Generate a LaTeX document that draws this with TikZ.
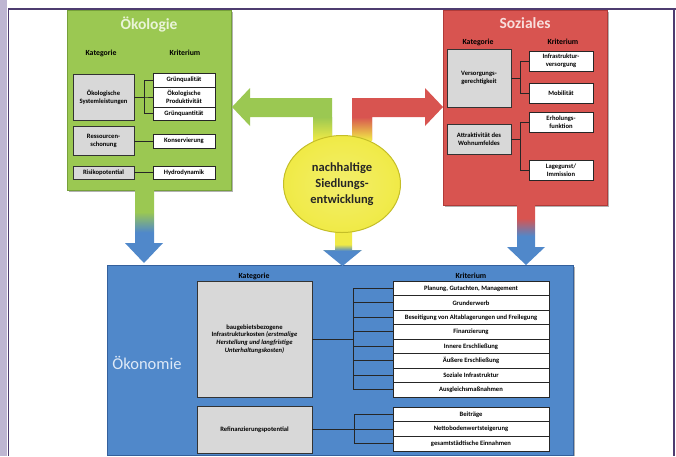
\documentclass[tikz,border=0pt]{standalone}
\usepackage{fontspec}
\setmainfont{Carlito}
\usetikzlibrary{shapes.geometric}

\definecolor{oekogreen}{RGB}{155,200,82}
\definecolor{oekogreenD}{RGB}{118,160,58}
\definecolor{oekogreenT}{RGB}{234,244,216}
\definecolor{sozred}{RGB}{216,84,80}
\definecolor{sozredD}{RGB}{176,58,56}
\definecolor{sozredT}{RGB}{248,222,220}
\definecolor{oekoblue}{RGB}{80,136,202}
\definecolor{oekoblueD}{RGB}{52,96,156}
\definecolor{oekoblueT}{RGB}{222,233,247}
\definecolor{katgray}{RGB}{216,216,216}
\definecolor{kreisgelb}{RGB}{240,234,70}
\definecolor{kreisgelbD}{RGB}{196,190,40}
\definecolor{rahmenlila}{RGB}{78,60,112}
\definecolor{streifen}{RGB}{190,182,210}

% vertical shadings for the block arrows (path spans 25bp..75bp)
\pgfdeclareverticalshading{gruenblau}{100bp}{color(0bp)=(oekoblue); color(46bp)=(oekoblue); color(60bp)=(oekogreen); color(100bp)=(oekogreen)}
\pgfdeclareverticalshading{rotblau}{100bp}{color(0bp)=(oekoblue); color(49bp)=(oekoblue); color(64bp)=(sozred); color(100bp)=(sozred)}
\pgfdeclareverticalshading{gelbblau}{100bp}{color(0bp)=(oekoblue); color(44bp)=(oekoblue); color(52bp)=(kreisgelb); color(100bp)=(kreisgelb)}

\tikzset{
  katbox/.style={draw=black!80, fill=katgray, line width=0.9pt, align=center, inner sep=1pt, font=\fontsize{6.6}{7.8}\selectfont\bfseries},
  kritbox/.style={draw=black!85, fill=white, line width=0.9pt, align=center, inner sep=1pt, font=\fontsize{6.6}{7.8}\selectfont\bfseries},
  spalte/.style={font=\fontsize{7.8}{9}\selectfont\bfseries},
  klammer/.style={draw=black!85, line width=0.9pt},
  titel/.style={font=\fontsize{15.5}{18}\selectfont\bfseries},
}

\begin{document}
\begin{tikzpicture}[x=1pt,y=1pt,yscale=-1]
\useasboundingbox (0,0) rectangle (676,456);
%Background and frame
\fill[white] (0,0) rectangle (676,456);
\fill[streifen] (0,0) rectangle (7,456);
\draw[rahmenlila, line width=1.8] (8.5,456) -- (8.5,9) -- (676,9);
\draw[rahmenlila, line width=1.8] (674,9) -- (674,456);

%Shape: Rectangle Oekonomie
\fill[black!30] (109,267) rectangle (575,456);
\draw[draw=oekoblueD, fill=oekoblue, line width=1] (107,265) rectangle (573,455);
%Shape: Rectangle Oekologie
\fill[black!30] (69,12) rectangle (233,192);
\draw[draw=oekogreenD, fill=oekogreen, line width=1] (67,10) rectangle (231,190);
%Shape: Rectangle Soziales
\fill[black!30] (445,12) rectangle (609,207);
\draw[draw=sozredD, fill=sozred, line width=1] (443,10) rectangle (607,205);

%Block arrows
\fill[oekogreen] (232,107) -- (250,88) -- (250,98) -- (332,98) -- (332,140) -- (313,140) -- (313,117) -- (250,117) -- (250,126) -- cycle;
\shade[top color=oekogreen, bottom color=kreisgelb] (313,117) rectangle (332,140);
\fill[sozred] (443,107) -- (425,88) -- (425,98) -- (352,98) -- (352,140) -- (372,140) -- (372,117) -- (425,117) -- (425,126) -- cycle;
\shade[top color=sozred, bottom color=kreisgelb] (352,117) rectangle (372,140);
\shade[shading=gelbblau] (335,226) -- (352,226) -- (352,250) -- (362,250) -- (342.5,266) -- (323,250) -- (335,250) -- cycle;
\shade[shading=gruenblau] (135,190) -- (154,190) -- (154,243) -- (163,243) -- (144,263) -- (125,243) -- (135,243) -- cycle;
\shade[shading=rotblau] (517,205) -- (535,205) -- (535,247) -- (545,247) -- (526,265) -- (507,247) -- (517,247) -- cycle;

%Ellipse
\node[ellipse, draw=kreisgelbD, line width=1, inner color=kreisgelb!80!white, outer color=kreisgelb, minimum width=117, minimum height=97, align=center, font=\fontsize{12.5}{16}\selectfont\bfseries, text=black!85] (kreis) at (342,184) {nachhaltige\\Siedlungs-\\entwicklung};

% Text Node
\node[titel, text=oekogreenT] (tOeko) at (149,25) {Ökologie};
\node[spalte] (kOeko) at (101,53) {Kategorie};
\node[spalte] (krOeko) at (185,53) {Kriterium};
\node[katbox, minimum width=61, minimum height=46] (oeksys) at (103.5,97) {Ökologische\\Systemleistungen};
\node[kritbox, minimum width=62, minimum height=14] (gqual) at (184,80) {Grünqualität};
\node[kritbox, minimum width=62, minimum height=20] (oekprod) at (184,97) {Ökologische\\Produktivität};
\node[kritbox, minimum width=62, minimum height=13] (gquant) at (184,113.5) {Grünquantität};
\node[katbox, minimum width=61, minimum height=29] (ressch) at (103.5,141) {Ressourcen-\\schonung};
\node[kritbox, minimum width=62, minimum height=14] (konserv) at (184,141) {Konservierung};
\node[katbox, minimum width=61, minimum height=13] (risiko) at (103.5,172.5) {Risikopotential};
\node[kritbox, minimum width=62, minimum height=13] (hydro) at (184,172.5) {Hydrodynamik};
%Straight Lines
\draw[klammer] (oeksys.east) -- ++(9.5,0) |- (gqual.west);
\draw[klammer] (oeksys.east) -- ++(9.5,0) |- (oekprod.west);
\draw[klammer] (oeksys.east) -- ++(9.5,0) |- (gquant.west);
\draw[klammer] (ressch.east) -- (konserv.west);
\draw[klammer] (risiko.east) -- (hydro.west);

% Text Node
\node[titel, text=sozredT] (tSoz) at (525,23) {Soziales};
\node[spalte] (kSoz) at (478,42) {Kategorie};
\node[spalte] (krSoz) at (563,42) {Kriterium};
\node[katbox, minimum width=64, minimum height=58] (versorg) at (479,78) {Versorgungs-\\gerechtigkeit};
\node[kritbox, minimum width=64, minimum height=20] (infra) at (561,61) {Infrastruktur-\\versorgung};
\node[kritbox, minimum width=64, minimum height=20] (mobil) at (561,93) {Mobilität};
\node[katbox, minimum width=64, minimum height=30] (attrakt) at (479,139) {Attraktivität des\\Wohnumfeldes};
\node[kritbox, minimum width=64, minimum height=20] (erhol) at (561,122) {Erholungs-\\funktion};
\node[kritbox, minimum width=64, minimum height=20] (lage) at (561,170) {Lagegunst/\\Immission};
%Straight Lines
\draw[klammer] (versorg.east) -- ++(9,0) |- (infra.west);
\draw[klammer] (versorg.east) -- ++(9,0) |- (mobil.west);
\draw[klammer] (attrakt.east) -- ++(9,0) |- (erhol.west);
\draw[klammer] (attrakt.east) -- ++(9,0) |- (lage.west);

% Text Node
\node[font=\fontsize{16.5}{19}\selectfont, text=oekoblueT] (tOekon) at (147,363) {Ökonomie};
\node[spalte] (kOekon) at (254,276) {Kategorie};
\node[spalte] (krOekon) at (471,276) {Kriterium};
\node[katbox, minimum width=115, minimum height=116] (baukost) at (254.5,339) {baugebietsbezogene\\Infrastrukturkosten \textit{(erstmalige}\\\textit{Herstellung und langfristige}\\\textit{Unterhaltungskosten)}};
\node[kritbox, minimum width=156, minimum height=14.5] (plan) at (471,288.3) {Planung, Gutachten, Management};
\node[kritbox, minimum width=156, minimum height=14.5] (grund) at (471,302.8) {Grunderwerb};
\node[kritbox, minimum width=156, minimum height=14.5] (beseit) at (471,317.3) {Beseitigung von Altablagerungen und Freilegung};
\node[kritbox, minimum width=156, minimum height=14.5] (finanz) at (471,331.8) {Finanzierung};
\node[kritbox, minimum width=156, minimum height=14.5] (innere) at (471,346.3) {Innere Erschließung};
\node[kritbox, minimum width=156, minimum height=14.5] (aeussere) at (471,360.8) {Äußere Erschließung};
\node[kritbox, minimum width=156, minimum height=14.5] (sozinf) at (471,375.3) {Soziale Infrastruktur};
\node[kritbox, minimum width=156, minimum height=14.5] (ausgl) at (471,389.8) {Ausgleichsmaßnahmen};
\node[katbox, minimum width=115, minimum height=47] (refin) at (254.5,429.5) {Refinanzierungspotential};
\node[kritbox, minimum width=156, minimum height=14.7] (beitr) at (471,414.3) {Beiträge};
\node[kritbox, minimum width=156, minimum height=14.7] (netto) at (471,429) {Nettobodenwertsteigerung};
\node[kritbox, minimum width=156, minimum height=14.7] (einn) at (471,443.7) {gesamtstädtische Einnahmen};
%Straight Lines
\draw[klammer] (baukost.east) -- ++(41,0) |- (plan.west);
\draw[klammer] (baukost.east) -- ++(41,0) |- (grund.west);
\draw[klammer] (baukost.east) -- ++(41,0) |- (beseit.west);
\draw[klammer] (baukost.east) -- ++(41,0) |- (finanz.west);
\draw[klammer] (baukost.east) -- ++(41,0) |- (innere.west);
\draw[klammer] (baukost.east) -- ++(41,0) |- (aeussere.west);
\draw[klammer] (baukost.east) -- ++(41,0) |- (sozinf.west);
\draw[klammer] (baukost.east) -- ++(41,0) |- (ausgl.west);
\draw[klammer] (refin.east) -- ++(42,0) |- (beitr.west);
\draw[klammer] (refin.east) -- ++(42,0) |- (netto.west);
\draw[klammer] (refin.east) -- ++(42,0) |- (einn.west);

\end{tikzpicture}
\end{document}
